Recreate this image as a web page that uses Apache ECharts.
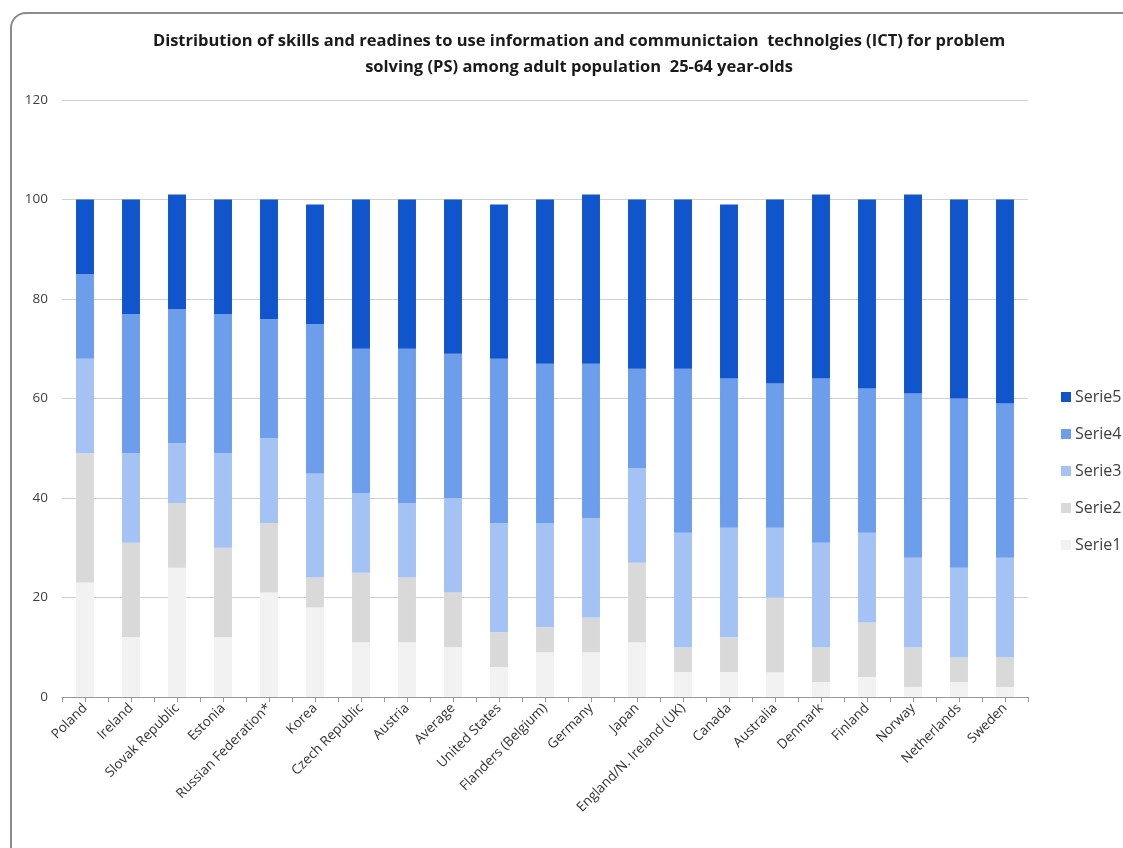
<!DOCTYPE html>
<html>
<head>
<meta charset="utf-8">
<script src="https://cdn.jsdelivr.net/npm/echarts@6/dist/echarts.min.js"></script>
<style>
  html, body { margin: 0; padding: 0; background: #fff; overflow: hidden; }
  #frame {
    position: absolute; left: 10px; top: 12px; width: 1140px; height: 860px;
    border: 2px solid #8c8c8c; border-radius: 16px; box-sizing: border-box;
  }
  #chart { position: absolute; left: 0; top: 0; width: 1123px; height: 848px; }
</style>
</head>
<body>
<div id="frame"></div>
<div id="chart"></div>
<script>
const countries = ["Poland", "Ireland", "Slovak Republic", "Estonia", "Russian Federation*", "Korea",
  "Czech Republic", "Austria", "Average", "United States", "Flanders (Belgium)", "Germany", "Japan",
  "England/N. Ireland (UK)", "Canada", "Australia", "Denmark", "Finland", "Norway", "Netherlands", "Sweden"];

const serie1 = [23, 12, 26, 12, 21, 18, 11, 11, 10, 6, 9, 9, 11, 5, 5, 5, 3, 4, 2, 3, 2];
const serie2 = [26, 19, 13, 18, 14, 6, 14, 13, 11, 7, 5, 7, 16, 5, 7, 15, 7, 11, 8, 5, 6];
const serie3 = [19, 18, 12, 19, 17, 21, 16, 15, 19, 22, 21, 20, 19, 23, 22, 14, 21, 18, 18, 18, 20];
const serie4 = [17, 28, 27, 28, 24, 30, 29, 31, 29, 33, 32, 31, 20, 33, 30, 29, 33, 29, 33, 34, 31];
const serie5 = [15, 23, 23, 23, 24, 24, 30, 30, 31, 31, 33, 34, 34, 34, 35, 37, 37, 38, 40, 40, 41];

const seriesNames = ["Serie1", "Serie2", "Serie3", "Serie4", "Serie5"];
const seriesData = [serie1, serie2, serie3, serie4, serie5];
const colors = ["#f2f2f2", "#d9d9d9", "#a4c2f4", "#6d9eeb", "#1155cc"];

// half-category ticks like the original axis
const halfTicks = [];
countries.forEach(() => { halfTicks.push(""); halfTicks.push(""); });

let chart = echarts.init(document.getElementById("chart"));

let option = {
  animation: false,
  title: {
    text: "Distribution of skills and readines to use information and communictaion  technolgies (ICT) for problem\nsolving (PS) among adult population  25-64 year-olds",
    left: 574,
    textAlign: "center",
    top: 23,
    textStyle: {
      fontFamily: "Open Sans",
      fontWeight: "bold",
      fontSize: 16.5,
      lineHeight: 26,
      color: "#1a1a1a",
    },
  },
  legend: {
    orient: "vertical",
    left: 1056,
    top: 384,
    itemWidth: 10,
    itemHeight: 10,
    itemGap: 21,
    icon: "rect",
    data: ["Serie5", "Serie4", "Serie3", "Serie2", "Serie1"],
    textStyle: { fontFamily: "Open Sans", fontSize: 16, color: "#404040", padding: [0, 0, 0, -1] },
  },
  grid: { left: 62, right: 95, top: 100, bottom: 151 },
  xAxis: [
    {
      type: "category",
      data: countries,
      axisLine: { lineStyle: { color: "#999" } },
      axisTick: { show: false },
      axisLabel: {
        interval: 0,
        rotate: 45,
        margin: 9,
        fontFamily: "Open Sans",
        fontSize: 13.5,
        color: "#333",
      },
    },
    {
      type: "category",
      data: halfTicks,
      position: "bottom",
      axisLine: { show: false },
      axisLabel: { show: false },
      axisTick: { show: true, interval: 0, length: 5, inside: false, lineStyle: { color: "#999" } },
    },
  ],
  yAxis: {
    type: "value",
    min: 0,
    max: 120,
    interval: 20,
    axisLine: { show: false },
    axisTick: { show: false },
    splitLine: { lineStyle: { color: "#d0d0d0", width: 1 } },
    axisLabel: { fontFamily: "Open Sans", fontSize: 13.5, color: "#404040", margin: 14 },
  },
  series: seriesNames.map((name, i) => ({
    name: name,
    type: "bar",
    stack: "total",
    xAxisIndex: 0,
    barWidth: "39%",
    itemStyle: { color: colors[i] },
    data: seriesData[i],
  })),
};

chart.setOption(option);
</script>
</body>
</html>
